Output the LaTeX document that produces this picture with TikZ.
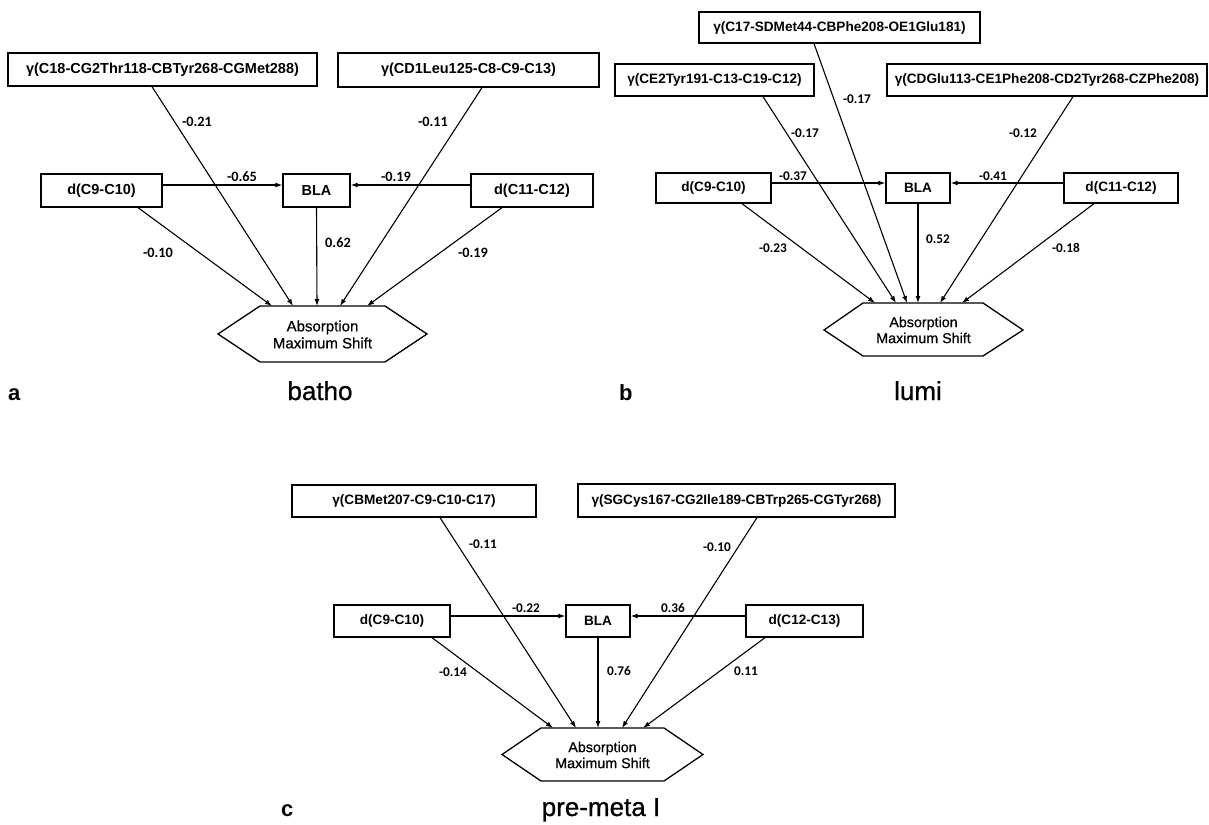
\documentclass[tikz,border=0pt]{standalone}
\usepackage{fontspec}
\setmainfont{Liberation Sans}
\newfontfamily\lblfont{Carlito}
\newfontfamily\medfont[FakeBold=0.6]{Liberation Sans}
\newfontfamily\ttlfont[FakeBold=0.8]{Liberation Sans}
\usetikzlibrary{arrows.meta}
\begin{document}
\begin{tikzpicture}[x=1pt,y=-1pt,
 box/.style={draw,line width=1.3pt,inner sep=0pt,font=\bfseries\fontsize{14.5}{16}\selectfont},
 boxs/.style={box,font=\bfseries\fontsize{13.6}{15}\selectfont},
 arr/.style={line width=1.1pt,-{Latex[length=7pt,width=5pt]}},
 lbl/.style={font=\lblfont\bfseries\fontsize{14.3}{16}\selectfont,inner sep=0pt},
 lbls/.style={font=\lblfont\bfseries\fontsize{13.3}{15}\selectfont,inner sep=0pt},
 hex/.style={line width=1.3pt},
 hextxt/.style={align=center,font=\medfont\fontsize{15}{17}\selectfont,inner sep=0pt},
 hextxts/.style={align=center,font=\medfont\fontsize{14.3}{16}\selectfont,inner sep=0pt},
 ttl/.style={font=\ttlfont\fontsize{26}{28}\selectfont,inner sep=0pt,anchor=base},
 plet/.style={font=\bfseries\fontsize{22}{24}\selectfont,inner sep=0pt,anchor=base west}]
\useasboundingbox (0,0) rectangle (1209,824);

% ================= panel a =================
\node[box,minimum width=309pt,minimum height=33pt] (g1a) at (162.5,69.5) {γ(C18-CG2Thr118-CBTyr268-CGMet288)};
\node[box,minimum width=261pt,minimum height=34pt] (g2a) at (468.5,70) {γ(CD1Leu125-C8-C9-C13)};
\node[box,minimum width=121pt,minimum height=33pt] (d1a) at (101.5,190.5) {d(C9-C10)};
\node[box,minimum width=67pt,minimum height=33pt] (blaa) at (316.5,190.5) {BLA};
\node[box,minimum width=122pt,minimum height=33pt] (d2a) at (532,190.5) {d(C11-C12)};
\draw[hex] (218,334) coordinate (ha-l) -- (260,306) coordinate (ha-tl) -- (385,306) coordinate (ha-tr)
  -- (427,334) coordinate (ha-r) -- (385,362) -- (260,362) -- cycle;
\node[hextxt] (hexa) at (322.5,334.5) {Absorption\\Maximum Shift};
\coordinate (ha-p1) at (272,306);
\coordinate (ha-p2) at (293,306);
\coordinate (ha-p3) at (317,306);
\coordinate (ha-p4) at (340,306);
\coordinate (ha-p5) at (367,306);
\draw[arr] ([xshift=-10.5pt]g1a.south) -- (ha-p2);
\draw[arr] ([xshift=13.5pt]g2a.south) -- (ha-p4);
\draw[arr] ([xshift=36.5pt]d1a.south) -- (ha-p1);
\draw[arr] (blaa.south) -- (ha-p3);
\draw[arr] ([xshift=-30pt]d2a.south) -- (ha-p5);
\draw[arr] ([yshift=5.5pt]d1a.east) -- ([yshift=5.5pt]blaa.west);
\draw[arr] ([yshift=5.5pt]d2a.west) -- ([yshift=5.5pt]blaa.east);
\node[lbl] (la1) at (197,122) {-0.21};
\node[lbl] (la2) at (433,122) {-0.11};
\node[lbl] (la3) at (242,177) {-0.65};
\node[lbl] (la4) at (396,177) {-0.19};
\node[lbl] (la5) at (158,253) {-0.10};
\node[lbl] (la6) at (338,243) {0.62};
\node[lbl] (la7) at (473,253) {-0.19};
\node[plet] (pa) at (8,400) {a};
\node[ttl] (ta) at (320,400) {batho};

% ================= panel b =================
\node[boxs,minimum width=199pt,minimum height=32pt] (g1b) at (714.5,80) {γ(CE2Tyr191-C13-C19-C12)};
\node[boxs,minimum width=281pt,minimum height=31pt] (g2b) at (839.5,27.5) {γ(C17-SDMet44-CBPhe208-OE1Glu181)};
\node[boxs,minimum width=320pt,minimum height=32pt] (g3b) at (1047,80) {γ(CDGlu113-CE1Phe208-CD2Tyr268-CZPhe208)};
\node[boxs,minimum width=115pt,minimum height=30pt] (d1b) at (713.5,188) {d(C9-C10)};
\node[boxs,minimum width=64pt,minimum height=30pt] (blab) at (918,188) {BLA};
\node[boxs,minimum width=114pt,minimum height=30pt] (d2b) at (1121,188) {d(C11-C12)};
\draw[hex] (824,330) -- (863,303) -- (983,303) -- (1023,330) -- (983,356) -- (863,356) -- cycle;
\node[hextxts] (hexb) at (923.5,330) {Absorption\\Maximum Shift};
\coordinate (hb-p1) at (875,303);
\coordinate (hb-p2) at (896,303);
\coordinate (hb-p3) at (907,303);
\coordinate (hb-p4) at (918,303);
\coordinate (hb-p5) at (940,303);
\coordinate (hb-p6) at (962,303);
\draw[arr] ([xshift=28.5pt]d1b.south) -- (hb-p1);
\draw[arr] ([xshift=48.5pt]g1b.south) -- (hb-p2);
\draw[arr] ([xshift=-25.5pt]g2b.south) -- (hb-p3);
\draw[arr] (blab.south) -- (hb-p4);
\draw[arr] ([xshift=26pt]g3b.south) -- (hb-p5);
\draw[arr] ([xshift=-27pt]d2b.south) -- (hb-p6);
\draw[arr] ([yshift=5pt]d1b.east) -- ([yshift=5pt]blab.west);
\draw[arr] ([yshift=5pt]d2b.west) -- ([yshift=5pt]blab.east);
\node[lbls] (lb1) at (805,133) {-0.17};
\node[lbls] (lb2) at (857,99) {-0.17};
\node[lbls] (lb3) at (1023,133) {-0.12};
\node[lbls] (lb4) at (793,176) {-0.37};
\node[lbls] (lb5) at (993,176) {-0.41};
\node[lbls] (lb6) at (773,248) {-0.23};
\node[lbls] (lb7) at (938,239) {0.52};
\node[lbls] (lb8) at (1066,248) {-0.18};
\node[plet] (pb) at (619,400) {b};
\node[ttl] (tb) at (918,400) {lumi};

% ================= panel c =================
\node[boxs,minimum width=244pt,minimum height=32pt] (g1c) at (414,501) {γ(CBMet207-C9-C10-C17)};
\node[boxs,minimum width=317pt,minimum height=33pt] (g2c) at (736.5,500.5) {γ(SGCys167-CG2Ile189-CBTrp265-CGTyr268)};
\node[boxs,minimum width=116pt,minimum height=32pt] (d1c) at (392,621) {d(C9-C10)};
\node[boxs,minimum width=64pt,minimum height=32pt] (blac) at (598,621) {BLA};
\node[boxs,minimum width=117pt,minimum height=32pt] (d2c) at (804.5,621) {d(C12-C13)};
\draw[hex] (502,754.5) -- (541,728) -- (664,728) -- (703,754.5) -- (664,781) -- (541,781) -- cycle;
\node[hextxts] (hexc) at (602.5,755) {Absorption\\Maximum Shift};
\coordinate (hc-p1) at (553,728);
\coordinate (hc-p2) at (576,728);
\coordinate (hc-p3) at (598,728);
\coordinate (hc-p4) at (622,728);
\coordinate (hc-p5) at (643,728);
\draw[arr] ([xshift=40pt]d1c.south) -- (hc-p1);
\draw[arr] ([xshift=26pt]g1c.south) -- (hc-p2);
\draw[arr] (blac.south) -- (hc-p3);
\draw[arr] ([xshift=20.5pt]g2c.south) -- (hc-p4);
\draw[arr] ([xshift=-39.5pt]d2c.south) -- (hc-p5);
\draw[arr] ([yshift=5pt]d1c.east) -- ([yshift=5pt]blac.west);
\draw[arr] ([yshift=5pt]d2c.west) -- ([yshift=5pt]blac.east);
\node[lbls] (lc1) at (483,544) {-0.11};
\node[lbls] (lc2) at (717,547) {-0.10};
\node[lbls] (lc3) at (526,608) {-0.22};
\node[lbls] (lc4) at (673,608) {0.36};
\node[lbls] (lc5) at (453,672) {-0.14};
\node[lbls] (lc6) at (619,671) {0.76};
\node[lbls] (lc7) at (746,671) {0.11};
\node[plet] (pc) at (281,816) {c};
\node[ttl] (tc) at (601,816) {pre-meta I};
\end{tikzpicture}
\end{document}
